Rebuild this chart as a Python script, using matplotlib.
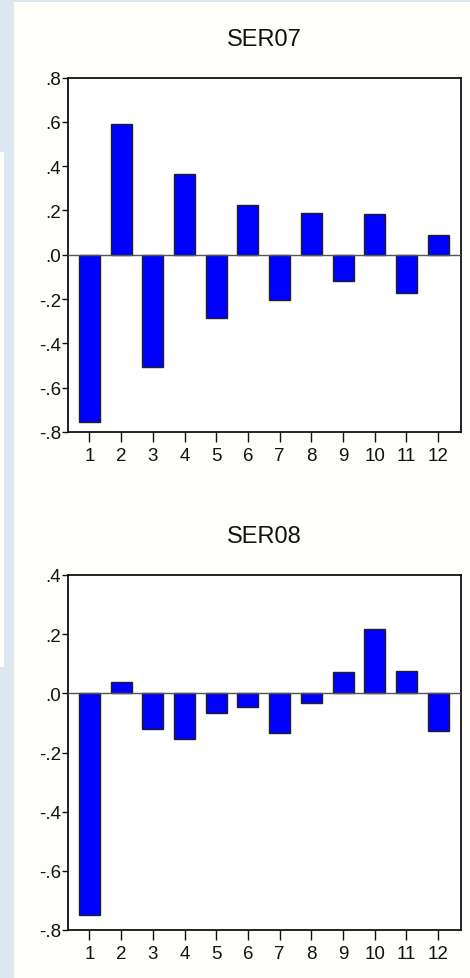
import matplotlib
matplotlib.use("Agg")
import matplotlib.pyplot as plt
from matplotlib.patches import Rectangle

lags = list(range(1, 13))
tick_labels = [str(i) for i in lags]
ser07 = [-0.756, 0.592, -0.505, 0.364, -0.285, 0.223, -0.206, 0.189, -0.118, 0.183, -0.173, 0.089]
ser08 = [-0.750, 0.038, -0.121, -0.155, -0.067, -0.046, -0.133, -0.034, 0.071, 0.218, 0.076, -0.129]
titles = ["SER07", "SER08"]
ylims = [(-0.8, 0.8), (-0.8, 0.4)]
yticks = [[-0.8, -0.6, -0.4, -0.2, 0.0, 0.2, 0.4, 0.6, 0.8],
          [-0.8, -0.6, -0.4, -0.2, 0.0, 0.2, 0.4]]

plt.rcParams['font.family'] = ['Liberation Sans', 'DejaVu Sans']

W, H = 470, 979
fig = plt.figure(figsize=(W / 100, H / 100), dpi=100)
fig.patch.set_facecolor('#dce6f0')

def px_rect(x0, y0, x1, y1, color):
    fig.patches.append(Rectangle((x0 / W, 1 - y1 / H), (x1 - x0) / W, (y1 - y0) / H,
                                 transform=fig.transFigure, facecolor=color,
                                 edgecolor='none', zorder=-10))

px_rect(14, 3, 470, 979, '#fefefa')
px_rect(0, 153, 4, 668, '#fefefa')

def fmt(v):
    s = f"{v:.1f}"
    s = s.replace("0.", ".")
    return s

boxes = [(67.5, 78.5, 461, 433), (67.5, 576, 461, 931)]
title_y = [40, 537]
for i, (vals, title, yl, yt) in enumerate(zip([ser07, ser08], titles, ylims, yticks)):
    x0, y0, x1, y1 = boxes[i]
    ax = fig.add_axes([x0 / W, 1 - y1 / H, (x1 - x0) / W, (y1 - y0) / H])
    ax.set_zorder(5)
    ax.set_facecolor('white')
    ax.bar(lags, vals, width=0.66, color='#0000ff', edgecolor='#222222', linewidth=1.0, zorder=2)
    ax.axhline(0, color='#555555', linewidth=1.0, zorder=3)
    ax.set_xlim(0.31, 12.72)
    ax.set_ylim(*yl)
    ax.set_yticks(yt)
    ax.set_yticklabels([fmt(v) for v in yt])
    ax.set_xticks(lags)
    ax.set_xticklabels(tick_labels)
    ax.tick_params(axis='y', direction='out', length=4, width=1, pad=0.5, labelsize=13.5, colors='#111111')
    ax.tick_params(axis='x', direction='out', length=7, width=1, pad=4, labelsize=13.5, colors='#111111')
    for s in ax.spines.values():
        s.set_linewidth(1.3)
        s.set_color('#111111')
    fig.text(((x0 + x1) / 2) / W, 1 - title_y[i] / H, title, ha='center', va='center',
             fontsize=17, color='#111111', zorder=6)

fig.savefig('out.png', dpi=100, facecolor=fig.get_facecolor())
